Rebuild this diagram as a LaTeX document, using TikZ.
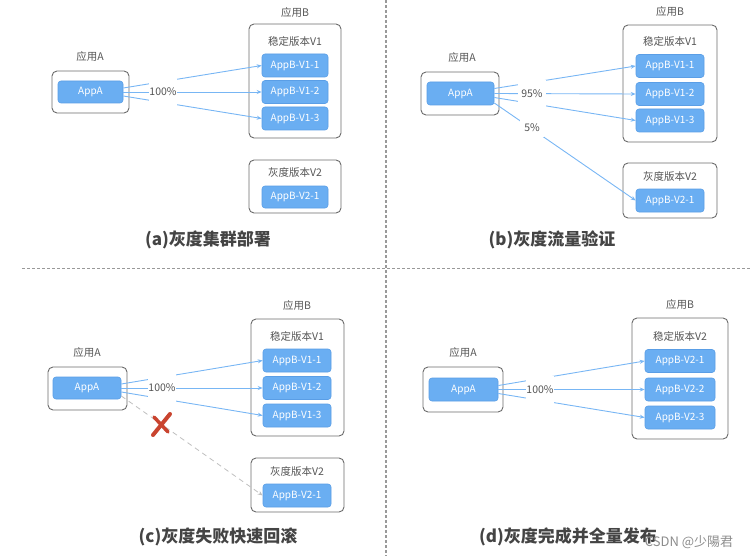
\documentclass[tikz,border=0pt]{standalone}
\usepackage{fontspec}
\setmainfont{Noto Sans CJK SC}
\usepackage{tikz}
\usetikzlibrary{arrows.meta,positioning}

\definecolor{appblue}{HTML}{6AAEF2}
\definecolor{appedge}{HTML}{5A9EE6}
\definecolor{flowblue}{HTML}{78B6F4}
\definecolor{boxgray}{HTML}{6B6B6B}
\definecolor{txtgray}{HTML}{555555}
\definecolor{ttlgray}{HTML}{444444}
\definecolor{crossred}{HTML}{C9442F}

\begin{document}
\begin{tikzpicture}[x=1pt,y=-1pt,
  grp/.style={draw=boxgray,line width=0.9pt,rounded corners=5pt,fill=white,inner sep=0pt},
  app/.style={draw=appedge,fill=appblue,line width=0.6pt,rounded corners=3pt,text=white,font=\fontsize{10}{12}\selectfont,inner sep=0pt},
  lbl/.style={text=txtgray,font=\fontsize{10.5}{12}\selectfont},
  flow/.style={draw=flowblue,line width=0.9pt,-{Stealth[length=5pt,width=4pt]}},
  back/.style={draw=black!25,line width=0.8pt,dash pattern=on 5pt off 4pt,-{Stealth[length=5pt,width=4pt]}},
  pct/.style={fill=white,text=txtgray,font=\fontsize{10.5}{12}\selectfont,inner sep=0pt,minimum width=28pt,minimum height=28pt},
  ttl/.style={text=ttlgray,font=\fontsize{17}{20}\selectfont\bfseries},
  sep/.style={draw=black!40,line width=1.5pt,dash pattern=on 3pt off 2pt}]
\useasboundingbox (0,0) rectangle (752,559);

% separators
\draw[sep] (386,0) -- (386,556);
\draw[sep] (22,268.5) -- (752,268.5);

% (a)
\node[grp,minimum width=77pt,minimum height=42pt] (a-gA) at (90.5,92) {};
\node[app,minimum width=65pt,minimum height=22pt] (a-A) at (90.5,92) {AppA};
\node[lbl] (a-lA) at (90,57) {应用A};
\node[grp,minimum width=92pt,minimum height=114pt] (a-gB1) at (295,81) {};
\node[lbl] (a-lB) at (295,13) {应用B};
\node[lbl] (a-lV1) at (295,42) {稳定版本V1};
\node[app,minimum width=66pt,minimum height=23pt] (a-v11) at (295,65.5) {AppB-V1-1};
\node[app,minimum width=66pt,minimum height=23pt] (a-v12) at (295,92) {AppB-V1-2};
\node[app,minimum width=66pt,minimum height=23pt] (a-v13) at (295,118.5) {AppB-V1-3};
\node[grp,minimum width=92pt,minimum height=53pt] (a-gB2) at (295,186.5) {};
\node[lbl] (a-lV2) at (295,173) {灰度版本V2};
\node[app,minimum width=66pt,minimum height=22pt] (a-v21) at (295,197) {AppB-V2-1};
\draw[flow] ([yshift=4pt]a-A.east) -- (a-v11.west);
\draw[flow] (a-A.east) -- (a-v12.west);
\draw[flow] ([yshift=-4pt]a-A.east) -- (a-v13.west);
\node[pct] (a-p) at (163,92) {100\%};
\node[ttl] (a-t) at (208,240) {(a)灰度集群部署};

% (b)
\node[grp,minimum width=78pt,minimum height=43pt] (b-gA) at (460,93.5) {};
\node[app,minimum width=67pt,minimum height=23pt] (b-A) at (460.5,93.5) {AppA};
\node[lbl] (b-lA) at (462,58) {应用A};
\node[grp,minimum width=94pt,minimum height=117pt] (b-gB1) at (670,83.5) {};
\node[lbl] (b-lB) at (670,12) {应用B};
\node[lbl] (b-lV1) at (670,42) {稳定版本V1};
\node[app,minimum width=68pt,minimum height=23pt] (b-v11) at (670,66) {AppB-V1-1};
\node[app,minimum width=68pt,minimum height=23pt] (b-v12) at (670,94) {AppB-V1-2};
\node[app,minimum width=68pt,minimum height=23pt] (b-v13) at (670,120.5) {AppB-V1-3};
\node[grp,minimum width=94pt,minimum height=55pt] (b-gB2) at (670,190.5) {};
\node[lbl] (b-lV2) at (670,177) {灰度版本V2};
\node[app,minimum width=68pt,minimum height=23pt] (b-v21) at (670,200.5) {AppB-V2-1};
\draw[flow] ([yshift=5pt]b-A.east) -- (b-v11.west);
\draw[flow] (b-A.east) -- (b-v12.west);
\draw[flow] ([yshift=-4pt]b-A.east) -- (b-v13.west);
\draw[flow] ([yshift=-9.5pt]b-A.east) -- (b-v21.west);
\node[pct] (b-p1) at (532,94) {95\%};
\node[pct,minimum width=24pt,minimum height=18pt] (b-p2) at (532,128) {5\%};
\node[ttl] (b-t) at (552,240) {(b)灰度流量验证};

% (c)
\node[grp,minimum width=79pt,minimum height=43pt] (c-gA) at (87.5,388.5) {};
\node[app,minimum width=68pt,minimum height=22pt] (c-A) at (87,388) {AppA};
\node[lbl] (c-lA) at (87,353) {应用A};
\node[grp,minimum width=93pt,minimum height=117pt] (c-gB1) at (297.5,377.5) {};
\node[lbl] (c-lB) at (297,306) {应用B};
\node[lbl] (c-lV1) at (297,336) {稳定版本V1};
\node[app,minimum width=68pt,minimum height=23pt] (c-v11) at (297,360.5) {AppB-V1-1};
\node[app,minimum width=68pt,minimum height=23pt] (c-v12) at (297,388) {AppB-V1-2};
\node[app,minimum width=68pt,minimum height=23pt] (c-v13) at (297,415.5) {AppB-V1-3};
\node[grp,minimum width=93pt,minimum height=54pt] (c-gB2) at (297.5,485) {};
\node[lbl] (c-lV2) at (297,472) {灰度版本V2};
\node[app,minimum width=68pt,minimum height=23pt] (c-v21) at (297,495.5) {AppB-V2-1};
\draw[flow] ([yshift=4pt]c-A.east) -- (c-v11.west);
\draw[flow] (c-A.east) -- (c-v12.west);
\draw[flow] ([yshift=-4pt]c-A.east) -- (c-v13.west);
\draw[back] ([yshift=-8pt]c-A.east) -- (c-v21.west);
\node[pct] (c-p) at (162,388) {100\%};
\coordinate (c-x) at (161,424);
\draw[crossred,line width=4pt,line cap=round] ([shift={(9,-10)}]c-x) -- ([shift={(-8,11)}]c-x);
\draw[crossred,line width=3.5pt,line cap=round] ([shift={(-7,-7)}]c-x) -- ([shift={(7,8)}]c-x);
\node[ttl] (c-t) at (218,537) {(c)灰度失败快速回滚};

% (d)
\node[grp,minimum width=80pt,minimum height=45pt] (d-gA) at (463,389.5) {};
\node[app,minimum width=69pt,minimum height=23pt] (d-A) at (463.5,389.5) {AppA};
\node[lbl] (d-lA) at (463,353) {应用A};
\node[grp,minimum width=96pt,minimum height=121pt] (d-gB) at (680,378.5) {};
\node[lbl] (d-lB) at (680,305) {应用B};
\node[lbl] (d-lV2) at (680,336) {稳定版本V2};
\node[app,minimum width=70pt,minimum height=23pt] (d-v21) at (680,361) {AppB-V2-1};
\node[app,minimum width=70pt,minimum height=23pt] (d-v22) at (680,389.5) {AppB-V2-2};
\node[app,minimum width=70pt,minimum height=23pt] (d-v23) at (680,417.5) {AppB-V2-3};
\draw[flow] ([yshift=4pt]d-A.east) -- (d-v21.west);
\draw[flow] (d-A.east) -- (d-v22.west);
\draw[flow] ([yshift=-4pt]d-A.east) -- (d-v23.west);
\node[pct] (d-p) at (540,390) {100\%};
\node[ttl] (d-t) at (568,537) {(d)灰度完成并全量发布};
\node[text=black!45,font=\fontsize{13}{15}\selectfont] (wm) at (689,542) {CSDN @少陽君};
\end{tikzpicture}
\end{document}
